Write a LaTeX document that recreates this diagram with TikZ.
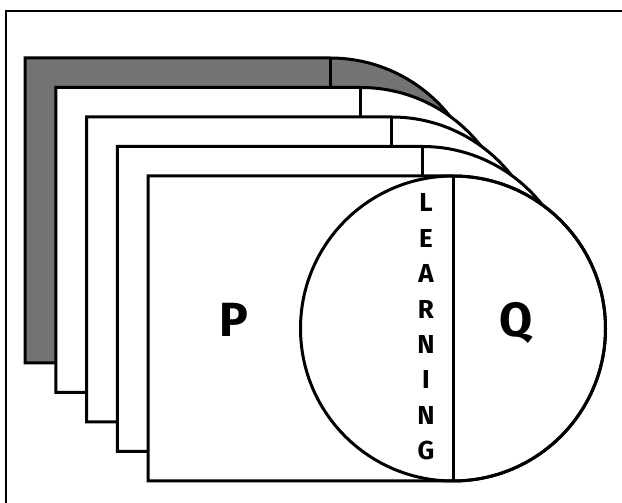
\documentclass[tikz,border=0pt]{standalone}
\usepackage{fontspec}
\usetikzlibrary{calc}
\newfontfamily\sheetfont{Fira Sans}
\begin{document}
\begin{tikzpicture}[x=1pt, y=1pt, line join=miter]
  \tikzset{
    sheet/.style={draw, line width=3pt},
    bigtag/.style={font=\sheetfont\bfseries\fontsize{48}{48}\selectfont, anchor=base, inner sep=0pt},
    letter/.style={font=\sheetfont\bfseries\fontsize{26}{26}\selectfont, anchor=base, inner sep=0pt}
  }
  \useasboundingbox (0,0) rectangle (622,503);

  % frame
  \draw[line width=1.5pt] (6,0) -- (6,492) -- (622,492);

  % stacked sheets, back to front
  \foreach \i/\shade in {0/black!55, 1/white, 2/white, 3/white, 4/white} {
    \pgfmathsetmacro{\sx}{25+30.75*\i}
    \pgfmathsetmacro{\sy}{445-29.5*\i}
    \coordinate (s\i) at (\sx,\sy);
    \draw[sheet, fill=\shade] (s\i) -- ++(305,0)
      arc[start angle=90, end angle=-90, radius=152.5] -- ++(-305,0) -- cycle;
    \draw[sheet] ($(s\i)+(305,0)$) -- ++(0,-305);
  }

  % front circle
  \coordinate (c) at ($(s4)+(305,-152.5)$);
  \draw[sheet] (c) circle (152.5);

  % labels
  \node[bigtag] (p) at (234,166) {P};
  \node[bigtag] (q) at (516,166) {Q};
  \foreach \ch [count=\k from 0] in {L,E,A,R,N,I,N,G}
    \node[letter] (l\k) at (426,{291-35.4*\k}) {\ch};
\end{tikzpicture}
\end{document}
